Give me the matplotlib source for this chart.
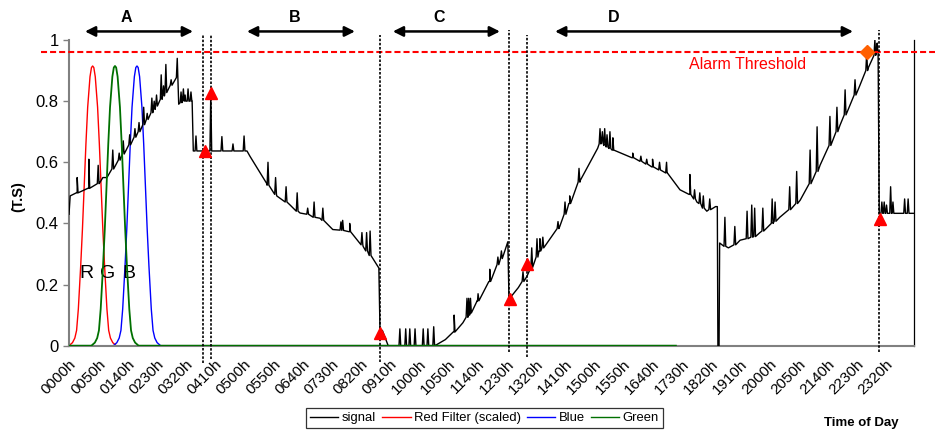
import matplotlib
matplotlib.use("Agg")
import matplotlib.pyplot as plt
from matplotlib.transforms import ScaledTranslation

plt.rcParams['font.family'] = ['Liberation Sans', 'DejaVu Sans']

# time axis in minutes after midnight
tick_labels = ['0000h', '0050h', '0140h', '0230h', '0320h', '0410h', '0500h', '0550h',
               '0640h', '0730h', '0820h', '0910h', '1000h', '1050h', '1140h', '1230h',
               '1320h', '1410h', '1500h', '1550h', '1640h', '1730h', '1820h', '1910h',
               '2000h', '2050h', '2140h', '2230h', '2320h']
tick_pos = [50 * i for i in range(len(tick_labels))]

# signal: baseline knots (t, value)
sig_base = [
    (0, 0.43), (2, 0.49), (14, 0.50), (34, 0.515), (53, 0.534), (58, 0.55), (65, 0.55),
    (184, 0.877), (185.5, 0.94), (188, 0.79), (200, 0.80), (211, 0.80), (213, 0.637),
    (305, 0.637), (310, 0.62), (339, 0.53), (356, 0.49), (379, 0.46), (396, 0.434),
    (430, 0.417), (452, 0.38), (481, 0.373), (504, 0.325), (531, 0.254), (533, 0.045),
    (537, 0.05), (547, 0.0), (627, 0.0), (645, 0.02), (660, 0.045), (675, 0.075),
    (687, 0.105), (700, 0.145), (721, 0.21), (738, 0.275), (752, 0.34), (754, 0.152),
    (770, 0.19), (785, 0.228), (807, 0.31), (841, 0.39), (858, 0.465), (876, 0.54),
    (906, 0.646), (912, 0.665), (932, 0.64), (966, 0.615), (1000, 0.585), (1025, 0.565),
    (1047, 0.51), (1064, 0.495), (1076, 0.47), (1093, 0.44), (1108, 0.455), (1111, 0.455),
    (1112, 0.0), (1114, 0.0), (1115, 0.336), (1130, 0.32), (1150, 0.345), (1184, 0.37),
    (1218, 0.42), (1253, 0.476), (1287, 0.59), (1321, 0.72), (1355, 0.85), (1370, 0.91),
    (1386, 0.965), (1388.5, 0.433), (1448, 0.433),
]

# signal spikes (t, base, top)
sig_spikes = [
    (14, 0.50, 0.55), (34, 0.515, 0.61), (50, 0.53, 0.59), (75, 0.578, 0.64),
    (86, 0.607, 0.63), (93, 0.627, 0.67), (104, 0.657, 0.69), (113, 0.682, 0.71),
    (120, 0.70, 0.73), (128, 0.723, 0.78), (134, 0.74, 0.76), (142, 0.762, 0.81),
    (146, 0.773, 0.80), (150, 0.784, 0.82), (158, 0.806, 0.886), (162, 0.817, 0.85),
    (166, 0.828, 0.92), (175, 0.852, 0.87),
    (192, 0.795, 0.83), (196, 0.80, 0.84), (199, 0.80, 0.82), (204, 0.80, 0.84),
    (209, 0.80, 0.83), (217.6, 0.637, 0.686), (243, 0.637, 0.827), (262, 0.637, 0.684),
    (281, 0.637, 0.66), (300, 0.637, 0.686),
    (341, 0.525, 0.60), (354, 0.495, 0.55), (372, 0.47, 0.52), (391, 0.44, 0.50),
    (409, 0.43, 0.45), (420, 0.42, 0.47), (435, 0.41, 0.45), (466, 0.378, 0.405),
    (469, 0.377, 0.41), (481, 0.373, 0.40), (502, 0.33, 0.37), (510, 0.31, 0.37),
    (516, 0.295, 0.375),
    (567, 0.0, 0.055), (577, 0.0, 0.055), (584, 0.0, 0.055), (593, 0.0, 0.055),
    (607, 0.0, 0.055), (615, 0.0, 0.055), (625, 0.0, 0.062),
    (660, 0.045, 0.10), (682, 0.093, 0.155), (685, 0.10, 0.155), (688, 0.107, 0.155),
    (701, 0.147, 0.17), (721, 0.21, 0.25), (735, 0.265, 0.29), (741, 0.285, 0.31),
    (778, 0.21, 0.242), (793, 0.256, 0.32), (802, 0.29, 0.35), (807, 0.31, 0.35),
    (812, 0.32, 0.355), (838, 0.383, 0.406), (850, 0.43, 0.47), (858, 0.465, 0.49),
    (874, 0.535, 0.58),
    (910, 0.66, 0.71), (914, 0.662, 0.70), (918, 0.655, 0.71), (922, 0.65, 0.69),
    (927, 0.645, 0.70), (932, 0.64, 0.68),
    (966, 0.615, 0.63), (980, 0.603, 0.62), (990, 0.594, 0.61), (1000, 0.585, 0.61),
    (1012, 0.575, 0.60), (1024, 0.565, 0.60), (1064, 0.495, 0.56), (1072, 0.48, 0.51),
    (1081, 0.465, 0.50), (1087, 0.45, 0.49), (1098, 0.445, 0.48),
    (1124, 0.325, 0.42), (1141, 0.33, 0.39), (1162, 0.35, 0.44), (1170, 0.355, 0.46),
    (1175, 0.357, 0.45), (1189, 0.375, 0.45), (1205, 0.40, 0.48), (1210, 0.407, 0.47),
    (1235, 0.445, 0.52), (1247, 0.465, 0.57), (1270, 0.53, 0.64), (1282, 0.57, 0.716),
    (1304, 0.655, 0.75), (1316, 0.70, 0.78), (1330, 0.755, 0.837), (1347, 0.82, 0.87),
    (1367, 0.90, 0.957), (1381, 0.95, 1.0), (1385, 0.962, 0.99),
    (1393, 0.433, 0.47), (1397, 0.433, 0.47), (1401, 0.433, 0.46), (1408, 0.433, 0.52),
    (1412, 0.433, 0.47), (1432, 0.433, 0.48), (1438, 0.433, 0.48),
]

# scaled filter curves: shared bell profile, shifted to each peak
bell_dt = [-40.5, -34.5, -30.5, -27.5, -24.5, -20.5, -17.5, -14.5, -11.5, -8.5, -4.5, -2, 0,
           2, 4.5, 8.5, 11.5, 14.5, 17.5, 20.5, 24.5, 27.5, 30.5, 34.5, 40.5]
bell_v = [0, 0.01, 0.025, 0.05, 0.12, 0.26, 0.38, 0.52, 0.66, 0.78, 0.88, 0.91, 0.915,
          0.91, 0.88, 0.78, 0.66, 0.52, 0.38, 0.26, 0.12, 0.05, 0.025, 0.01, 0]
red_peak, green_peak, blue_peak = 40.5, 78.8, 116.5
filter_end = 1040

alarm_level = 0.96
event_lines = [229.6, 243, 533, 754, 785, 1388]
event_top = [1.017, 1.017, 1.017, 1.033, 1.017, 1.033]
event_bottom = [-0.057, -0.044, -0.053, -0.02, -0.037, -0.02]
tri_t = [233, 243, 533, 755.7, 785, 1389]
tri_v = [0.637, 0.827, 0.043, 0.152, 0.266, 0.415]
alarm_pt = (1367, 0.961)

phases = ['A', 'B', 'C', 'D']
phase_start = [27.4, 305, 555, 833]
phase_end = [212.5, 490, 738.5, 1343.5]
phase_label_t = [97.7, 387, 634, 934]


def build_signal(base, spikes, w=1.5):
    pts = list(base)
    for t, b, top in spikes:
        pts += [(t - w, b), (t, top), (t + w, b)]
    pts.sort(key=lambda p: p[0])
    return [p[0] for p in pts], [p[1] for p in pts]


def bell(peak):
    ts = [0] + [peak + d for d in bell_dt] + [filter_end]
    vs = [0] + bell_v + [0]
    return ts, vs


fig = plt.figure(figsize=(9.35, 4.32), dpi=100)
ax = fig.add_axes([0.0738, 0.1998, 0.9037, 0.7076])

st, sv = build_signal(sig_base, sig_spikes)
ax.plot(st, sv, color='black', lw=1.0, label='signal', zorder=3)
rt, rv = bell(red_peak)
ax.plot(rt, rv, color='#ff0000', lw=1.0, label='Red Filter (scaled)', zorder=2)
bt, bv = bell(blue_peak)
ax.plot(bt, bv, color='#0000ff', lw=1.0, label='Blue', zorder=2)
gt, gv = bell(green_peak)
ax.plot(gt, gv, color='#007000', lw=1.3, label='Green', zorder=4)

# alarm threshold
ax.plot([-48, 1484], [alarm_level, alarm_level], color='#ff0000', lw=1.5,
        dashes=(2.9, 1.45), clip_on=False, zorder=5)
ax.text(1163, 0.92, 'Alarm Threshold', color='#ff0000', fontsize=11.5,
        ha='center', va='center')

for x, y0, y1 in zip(event_lines, event_bottom, event_top):
    ax.plot([x, x], [y0, y1], color='black', lw=1.2, dashes=(1.5, 1.0),
            clip_on=False, zorder=6)

ax.plot(tri_t, tri_v, linestyle='none', marker='^', color='#ff0000', ms=8, zorder=7)
ax.plot([alarm_pt[0]], [alarm_pt[1]], linestyle='none', marker='D', color='#ff6000',
        ms=7, zorder=7)

for lab, x0, x1, xl in zip(phases, phase_start, phase_end, phase_label_t):
    ax.annotate('', xy=(x1, 1.028), xytext=(x0, 1.028),
                arrowprops=dict(arrowstyle='<|-|>', color='black', lw=1.8,
                                mutation_scale=15, shrinkA=0, shrinkB=0),
                annotation_clip=False)
    ax.text(xl, 1.075, lab, fontsize=11.5, fontweight='bold', ha='center', va='center')

ax.text(30, 0.235, 'R', fontsize=14, ha='center', va='center')
ax.text(67, 0.235, 'G', fontsize=14, ha='center', va='center')
ax.text(103, 0.235, 'B', fontsize=14, ha='center', va='center')

ax.set_xlim(0, 1448)
ax.set_ylim(0, 1)
ax.set_xticks(tick_pos)
ax.set_xticklabels(tick_labels, rotation=45, ha='right', rotation_mode='anchor',
                   fontsize=11)
shift = ScaledTranslation(-5 / 100, 0, fig.dpi_scale_trans)
for lbl in ax.get_xticklabels():
    lbl.set_transform(lbl.get_transform() + shift)
ax.set_yticks([0, 0.2, 0.4, 0.6, 0.8, 1.0])
ax.set_yticklabels(['0', '0.2', '0.4', '0.6', '0.8', '1'], fontsize=12)
ax.tick_params(axis='x', length=0, pad=8)
ax.tick_params(axis='y', length=4, color='#808080', width=1)

for side in ['left', 'bottom']:
    ax.spines[side].set_color('#808080')
    ax.spines[side].set_linewidth(1.5)
ax.spines['top'].set_visible(False)
ax.spines['right'].set_color('black')
ax.spines['right'].set_linewidth(0.9)

fig.text(0.019, 0.545, '(T.S)', rotation=90, fontsize=10.5, fontweight='bold',
         ha='center', va='center')
fig.text(0.921, 0.021, 'Time of Day', fontsize=9.5, fontweight='bold',
         ha='center', va='center')

leg = fig.legend(loc='center', bbox_to_anchor=(0.518, 0.032), ncol=4, fontsize=9.4,
                 frameon=True, fancybox=False, edgecolor='black', handlelength=2.2,
                 columnspacing=0.45, handletextpad=0.25, borderpad=0.3, borderaxespad=0)
leg.get_frame().set_linewidth(0.9)
for h in leg.get_lines():
    h.set_linewidth(1.0)

fig.savefig('out.png', dpi=100)
plt.close(fig)
